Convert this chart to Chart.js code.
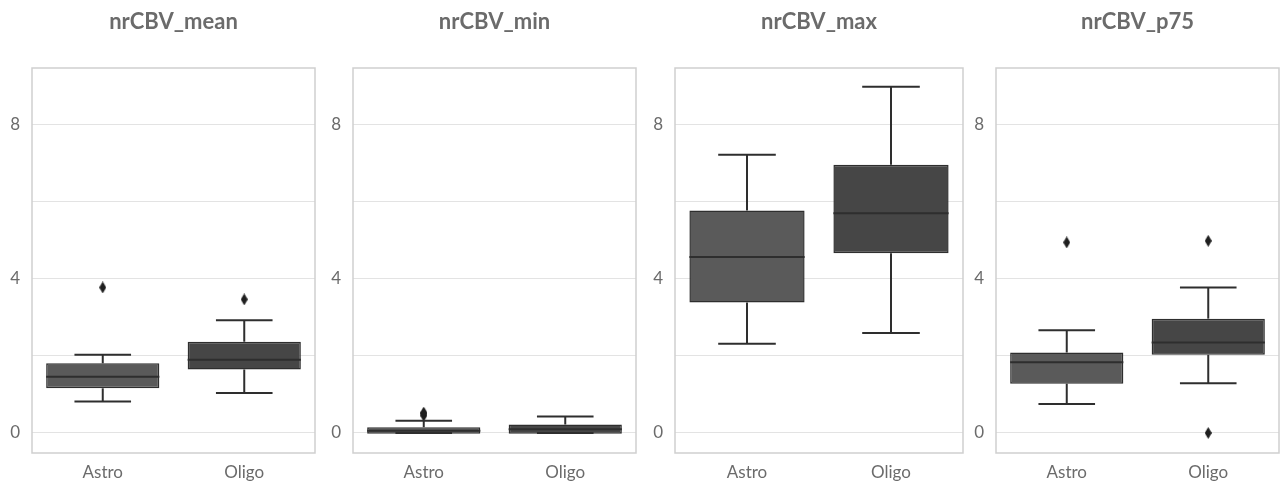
<!DOCTYPE html>
<html>
<head>
<meta charset="utf-8">
<script src="https://cdn.jsdelivr.net/npm/chart.js@4"></script>
<style>
    body { margin: 0; background: #fff; overflow: hidden; }
    #wrap { position: relative; width: 1282px; height: 485px; overflow: hidden; }
    .panel { position: absolute; top: 0; width: 321px; height: 485px; }
</style>
</head>
<body>
<div id="wrap">
    <div class="panel" style="left:0px"><canvas id="c0"></canvas></div>
    <div class="panel" style="left:321px"><canvas id="c1"></canvas></div>
    <div class="panel" style="left:643px"><canvas id="c2"></canvas></div>
    <div class="panel" style="left:964px"><canvas id="c3"></canvas></div>
</div>
<script>
// categories and panel titles
const groups = ["Astro", "Oligo"];
const titles = ["nrCBV_mean", "nrCBV_min", "nrCBV_max", "nrCBV_p75"];
const yTicks = [0, 2, 4, 6, 8];
const yLabels = [0, 4, 8];

// box plot stats per panel, [Astro, Oligo]
const whiskerLow  = [[0.82, 1.04], [0.00, 0.00], [2.32, 2.60], [0.75, 1.29]];
const q1          = [[1.16, 1.65], [-0.02, -0.02], [3.39, 4.67], [1.28, 2.03]];
const median      = [[1.46, 1.90], [0.06, 0.10], [4.57, 5.71], [1.84, 2.35]];
const q3          = [[1.81, 2.37], [0.15, 0.22], [5.78, 6.97], [2.09, 2.97]];
const whiskerHigh = [[2.03, 2.93], [0.32, 0.43], [7.23, 8.99], [2.67, 3.78]];
// outliers per panel: [group, value]
const outliers = [
    [["Astro", 3.78], ["Oligo", 3.47]],
    [["Astro", 0.45], ["Astro", 0.50], ["Astro", 0.53]],
    [],
    [["Astro", 4.95], ["Oligo", 4.99], ["Oligo", 0.00]]
];

const boxColors = ["#5a5a5a", "#464646"];
const edgeColor = "#2e2e2e";
const textColor = "#6b6b6b";

// thin seaborn-like diamond marker
function diamond() {
    let c = document.createElement("canvas");
    c.width = 7; c.height = 12;
    let g = c.getContext("2d");
    g.fillStyle = "#1f1f1f";
    g.beginPath();
    g.moveTo(3.5, 0); g.lineTo(7, 6); g.lineTo(3.5, 12); g.lineTo(0, 6);
    g.closePath(); g.fill();
    return c;
}
const diamondImg = diamond();

// whiskers, caps, median line and frame
const boxExtras = {
    id: "boxExtras",
    afterDatasetsDraw(chart) {
        let i = chart.options.plugins.boxExtras.panel;
        let xs = chart.scales.x, ys = chart.scales.y;
        let ctx = chart.ctx;
        let meta = chart.getDatasetMeta(0);
        ctx.save();
        ctx.strokeStyle = edgeColor;
        ctx.lineWidth = 2;
        groups.forEach((g, k) => {
            let cx = xs.getPixelForValue(k);
            let bar = meta.data[k];
            let half = bar.width / 2;
            let cap = bar.width / 4;
            let line = (x1, y1, x2, y2) => {
                ctx.beginPath(); ctx.moveTo(x1, y1); ctx.lineTo(x2, y2); ctx.stroke();
            };
            // lower whisker
            line(cx, ys.getPixelForValue(q1[i][k]), cx, ys.getPixelForValue(whiskerLow[i][k]));
            line(cx - cap, ys.getPixelForValue(whiskerLow[i][k]), cx + cap, ys.getPixelForValue(whiskerLow[i][k]));
            // upper whisker
            line(cx, ys.getPixelForValue(q3[i][k]), cx, ys.getPixelForValue(whiskerHigh[i][k]));
            line(cx - cap, ys.getPixelForValue(whiskerHigh[i][k]), cx + cap, ys.getPixelForValue(whiskerHigh[i][k]));
            // median
            line(cx - half, ys.getPixelForValue(median[i][k]), cx + half, ys.getPixelForValue(median[i][k]));
        });
        let a = chart.chartArea;
        ctx.strokeStyle = "#cfcfcf";
        ctx.lineWidth = 1.5;
        ctx.strokeRect(a.left, a.top, a.right - a.left, a.bottom - a.top);
        ctx.restore();
    }
};

function makePanel(i) {
    let ctx = document.getElementById("c" + i).getContext("2d");
    new Chart(ctx, {
        data: {
            labels: groups,
            datasets: [{
                type: "bar",
                data: groups.map((g, k) => [q1[i][k], q3[i][k]]),
                backgroundColor: boxColors,
                borderColor: edgeColor,
                borderWidth: 1.5,
                borderSkipped: false,
                barPercentage: 0.8,
                categoryPercentage: 1,
                order: 2
            }, {
                type: "line",
                data: outliers[i].map(o => ({ x: o[0], y: o[1] })),
                showLine: false,
                pointStyle: diamondImg,
                pointRadius: 5,
                order: 1
            }]
        },
        options: {
            responsive: true,
            maintainAspectRatio: false,
            animation: false,
            layout: { padding: { left: 0, right: 1, bottom: 0 } },
            plugins: {
                legend: { display: false },
                tooltip: { enabled: false },
                title: {
                    display: true,
                    fullSize: false, // centre over the plot area, not the canvas
                    text: titles[i],
                    color: textColor,
                    font: { family: "Lato", size: 22, weight: "bold", lineHeight: 1.2 },
                    padding: { top: 9, bottom: 32.6 }
                },
                boxExtras: { panel: i }
            },
            scales: {
                x: {
                    type: "category",
                    grid: { display: false, drawTicks: false },
                    border: { display: false },
                    ticks: { color: textColor, font: { family: "Lato", size: 17 }, padding: 9 },
                    afterFit(s) { s.height = 32; }
                },
                y: {
                    min: -0.52,
                    max: 9.48,
                    afterBuildTicks(s) { s.ticks = yTicks.map(v => ({ value: v })); },
                    grid: { color: "#e3e3e3", lineWidth: 1, drawTicks: false },
                    border: { display: false },
                    ticks: {
                        color: textColor,
                        font: { family: "Lato", size: 17 },
                        padding: 12,
                        callback: v => yLabels.includes(v) ? String(v) : ""
                    },
                    afterFit(s) { s.width = 32; }
                }
            }
        },
        plugins: [boxExtras]
    });
}

titles.forEach((t, i) => makePanel(i));
</script>
</body>
</html>
